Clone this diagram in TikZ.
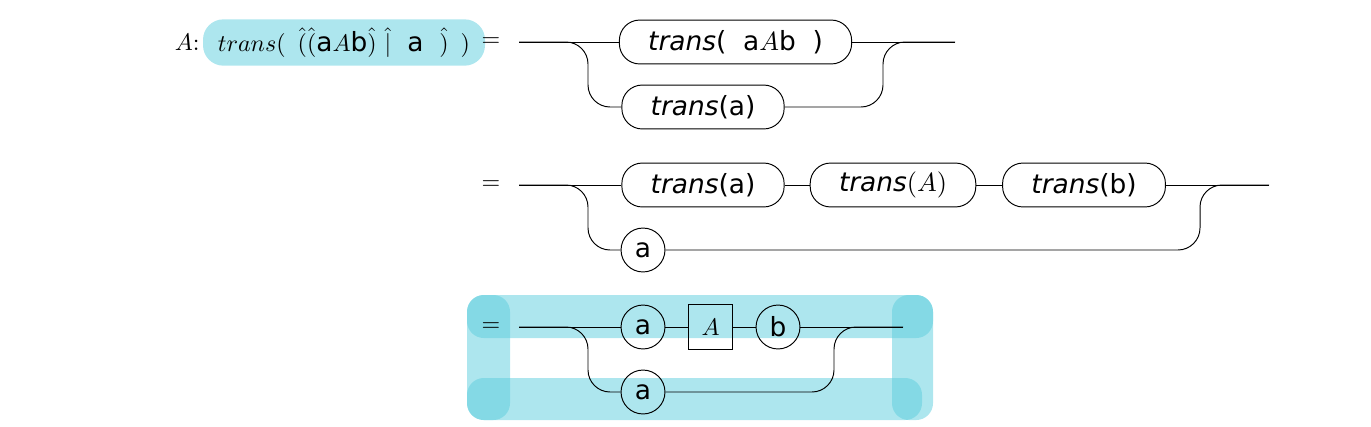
\documentclass[tikz,border=0pt]{standalone}
\usepackage{fontspec}
\newfontfamily\railfont{DejaVu Sans}[ItalicFont={DejaVu Sans Oblique}]
\usepackage{tikz}
\definecolor{hlcyan}{RGB}{91,205,221}
\newcommand{\rr}[1]{\mbox{\fontsize{11}{13}\railfont #1}}

\tikzset{
  rail/.style={thin, black, rounded corners=9.2pt},
  tok/.style={draw, circle, minimum size=18.3pt, inner sep=0pt,
    font=\fontsize{11}{13}\railfont},
  ntbox/.style={draw, rectangle, minimum size=18.7pt, inner sep=0pt},
  call/.style={draw, rectangle, rounded corners=8.5pt, minimum height=18.3pt,
    inner xsep=12pt, inner ysep=0pt, font=\fontsize{11}{13}\railfont},
  hl/.style={fill=hlcyan, fill opacity=0.5, rounded corners=7pt},
}

\begin{document}
\begin{tikzpicture}[x=0.41667pt, y=-0.41667pt]
    \useasboundingbox (0,0) rectangle (1371,426);

    % Regla
    \node[fill=hlcyan!50, rounded corners=8.5pt, minimum height=17pt,
      minimum width=117.5pt, inner xsep=0pt] (rule) at (344,42.5)
      {$trans(\ \,\hat{(}\hat{(}\rr{a}A\rr{b}\hat{)}\ \hat{|}\ \ \rr{a}\ \ \hat{)}\ \,)$};
    \node[anchor=east, inner sep=1pt] (lhs) at (rule.west) {$A$:};
    \node (eq1) at (491,42) {$=$};

    % Fila 1
    \coordinate (in1) at (519,42);
    \coordinate (out1) at (955,42);
    \coordinate (dn1) at (588,107);
    \coordinate (up1) at (883,42);
    \node[call] (t1) at (735.5,42) {\textit{trans}(\ \ a$A$b\ \ )};
    \node[call] (t2) at (703,107) {\textit{trans}(a)};
    \draw[rail] (in1) -- (t1.west) (t1.east) -- (out1);
    \draw[rail] (in1) -| (dn1) -- (t2.west);
    \draw[rail] (t2.east) -| (up1) -- (out1);

    % Fila 2
    \node (eq2) at (491,185) {$=$};
    \coordinate (in2) at (519,185);
    \coordinate (out2) at (1269,185);
    \coordinate (dn2) at (588,250);
    \coordinate (up2) at (1200,185);
    \node[call] (ta) at (703,185) {\textit{trans}(a)};
    \node[call] (tA) at (893,185) {\textit{trans}$(A)$};
    \node[call] (tb) at (1084,185) {\textit{trans}(b)};
    \node[tok] (a2) at (643,250) {a};
    \draw[rail] (in2) -- (ta.west) (ta.east) -- (tA.west)
      (tA.east) -- (tb.west) (tb.east) -- (out2);
    \draw[rail] (in2) -| (dn2) -- (a2.west);
    \draw[rail] (a2.east) -| (up2) -- (out2);

    % Marques
    \fill[hl] (467,295) rectangle (933,338);
    \fill[hl] (467,378) rectangle (922,420);
    \fill[hl] (467,295) rectangle (510,420);
    \fill[hl] (892,295) rectangle (933,420);

    % Fila 3
    \node (eq3) at (491,327) {$=$};
    \coordinate (in3) at (519,327);
    \coordinate (out3) at (903,327);
    \coordinate (dn3) at (588,392);
    \coordinate (up3) at (834,327);
    \node[tok] (ca) at (643,327) {a};
    \node[ntbox] (cA) at (710.5,327) {$A$};
    \node[tok] (cb) at (778,327) {b};
    \node[tok] (ca2) at (643,392) {a};
    \draw[rail] (in3) -- (ca.west) (ca.east) -- (cA.west)
      (cA.east) -- (cb.west) (cb.east) -- (out3);
    \draw[rail] (in3) -| (dn3) -- (ca2.west);
    \draw[rail] (ca2.east) -| (up3) -- (out3);

\end{tikzpicture}
\end{document}
